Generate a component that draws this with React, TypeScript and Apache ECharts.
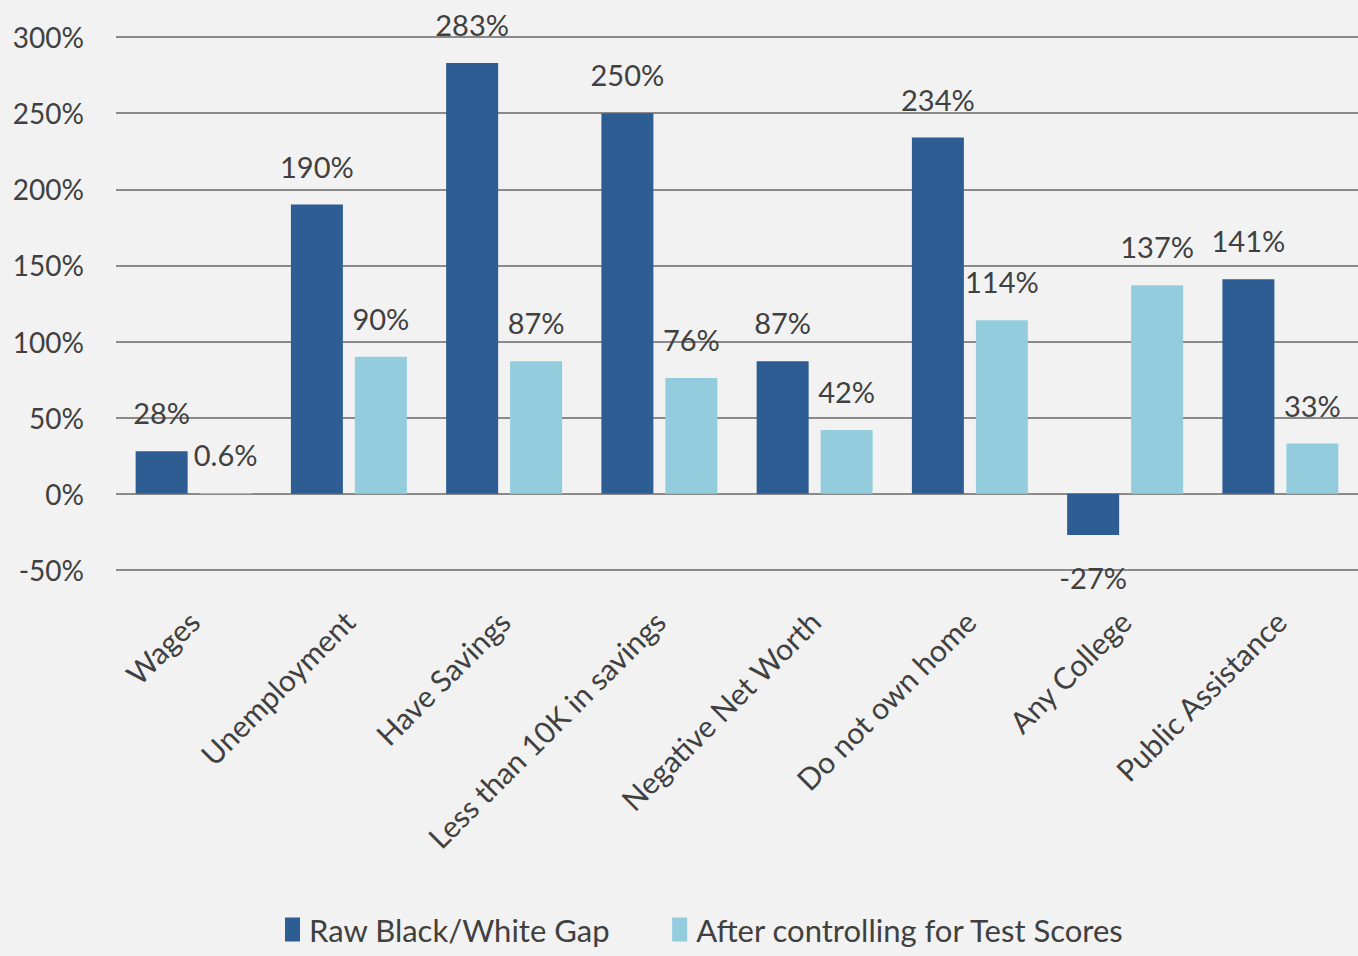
import React, { useEffect, useRef } from "react";
import * as echarts from "echarts";

const categories = [
  "Wages",
  "Unemployment",
  "Have Savings",
  "Less than 10K in savings",
  "Negative Net Worth",
  "Do not own home",
  "Any College",
  "Public Assistance",
];
const rawGap = [28, 190, 283, 250, 87, 234, -27, 141];
const afterControl = [0.6, 90, 87, 76, 42, 114, 137, 33];
const seriesNames = ["Raw Black/White Gap", "After controlling for Test Scores"];

const FONT = "Lato, 'Open Sans', sans-serif";
const TEXT = "#404040";

export default function App() {
  const ref = useRef<HTMLDivElement>(null);
  useEffect(() => {
    document.body.style.margin = "0";
    const chart = echarts.init(ref.current!, null, { renderer: "svg" });
    const labelBase = {
      show: true,
      position: "top",
      distance: 24,
      fontSize: 29,
      color: TEXT,
      fontFamily: FONT,
      formatter: (p: any) => `${p.value}%`,
    };
    const toData = (arr: number[]) =>
      arr.map((v) =>
        v < 0 ? { value: v, label: { position: "bottom", distance: 28 } } : v
      );
    chart.setOption({
      animation: false,
      backgroundColor: "#F2F2F2",
      textStyle: { fontFamily: FONT },
      grid: { left: 116, right: -8, top: 37, bottom: 386 },
      legend: {
        top: 914,
        left: 285,
        itemWidth: 15,
        itemHeight: 24,
        itemGap: 62,
        icon: "rect",
        padding: 0,
        textStyle: { fontSize: 31, color: TEXT, fontFamily: FONT, padding: [0, 0, 0, 4] },
        data: seriesNames,
      },
      xAxis: {
        type: "category",
        data: categories,
        axisLine: { show: false, onZero: false },
        axisTick: { show: false },
        axisLabel: {
          rotate: 45,
          margin: 46,
          fontSize: 30,
          color: TEXT,
          fontFamily: FONT,
          interval: 0,
        },
      },
      yAxis: {
        type: "value",
        min: -50,
        max: 300,
        interval: 50,
        axisLine: { show: false },
        axisTick: { show: false },
        axisLabel: {
          formatter: "{value}%",
          fontSize: 28,
          color: TEXT,
          margin: 32,
          fontFamily: FONT,
        },
        splitLine: { lineStyle: { color: "#8A8A8A", width: 2 } },
      },
      series: [
        {
          name: seriesNames[0],
          type: "bar",
          data: toData(rawGap),
          barWidth: 52,
          barGap: "23%",
          itemStyle: { color: "#2E5D93" },
          label: labelBase,
        },
        {
          name: seriesNames[1],
          type: "bar",
          data: toData(afterControl),
          barWidth: 52,
          itemStyle: { color: "#93CDDD" },
          label: labelBase,
        },
      ],
    });
    return () => chart.dispose();
  }, []);
  return <div ref={ref} style={{ width: 1358, height: 956 }} />;
}
